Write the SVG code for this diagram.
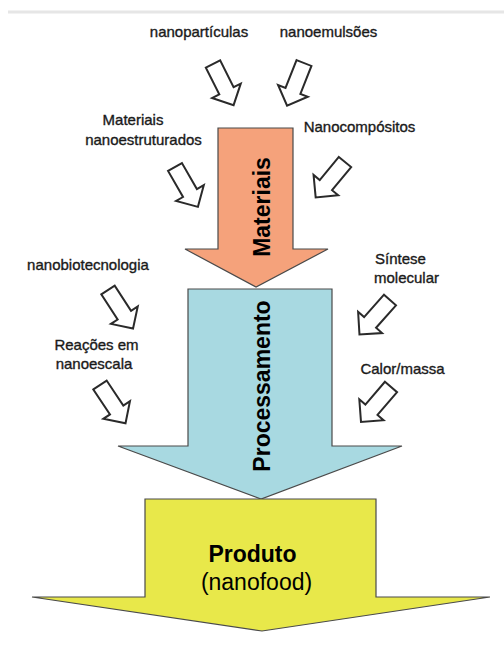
<svg xmlns="http://www.w3.org/2000/svg" xmlns:xlink="http://www.w3.org/1999/xlink" width="504" height="645" viewBox="0 0 504 645">
<style>
.lbl{font-family:"Liberation Sans",Arial,sans-serif;font-size:15px;fill:#1a1a1a;stroke:#1a1a1a;stroke-width:0.35}
.big{font-family:"Liberation Sans",Arial,sans-serif;font-size:23px;font-weight:bold;fill:#000}
.bigr{font-family:"Liberation Sans",Arial,sans-serif;font-size:23px;fill:#000}
.bigarrow{stroke:#4a4a4a;stroke-width:1.2;stroke-linejoin:miter}
.small{fill:#fff;stroke:#2a2a2a;stroke-width:2;stroke-linejoin:miter}
</style>
<defs>
<path id="hollow" d="M-8,0 H8 V30 H16 L0,46 L-16,30 H-8 Z"/>
</defs>
<rect width="504" height="645" fill="#fff"/>
<line x1="8" y1="12" x2="504" y2="12" stroke="#e6e6e6" stroke-width="3"/>

<g id="materiais">
<path class="bigarrow" fill="#F5A27B" d="M218,128 H293 V249 H328 L256,287 L185,249 H218 Z"/>
<text class="big" transform="translate(270,207) rotate(-90)" text-anchor="middle">Materiais</text>
</g>
<g id="processamento">
<path class="bigarrow" fill="#A8D9E1" d="M188,289 H332 V446 H402 L261,499 L118,446 H188 Z"/>
<text class="big" transform="translate(270,386) rotate(-90)" text-anchor="middle">Processamento</text>
</g>
<g id="produto">
<path class="bigarrow" fill="#E8E84A" d="M145,499 H376 V597 H490 L262,631 L32,597 H145 Z"/>
<text class="big" x="252.5" y="562" text-anchor="middle">Produto</text>
<text class="bigr" x="256.5" y="590" text-anchor="middle">(nanofood)</text>
</g>

<g id="labels">
<text class="lbl" x="199" y="37" text-anchor="middle">nanopartículas</text>
<text class="lbl" x="328.5" y="37" text-anchor="middle">nanoemulsões</text>
<text class="lbl" x="133" y="125" text-anchor="middle">Materiais</text>
<text class="lbl" x="143.5" y="145" text-anchor="middle">nanoestruturados</text>
<text class="lbl" x="359.5" y="132" text-anchor="middle">Nanocompósitos</text>
<text class="lbl" x="88" y="270" text-anchor="middle">nanobiotecnologia</text>
<text class="lbl" x="375" y="264">Síntese</text>
<text class="lbl" x="374" y="283">molecular</text>
<text class="lbl" x="96.5" y="350" text-anchor="middle">Reações em</text>
<text class="lbl" x="94" y="369" text-anchor="middle">nanoescala</text>
<text class="lbl" x="402.5" y="374" text-anchor="middle">Calor/massa</text>
</g>

<g id="connectors">
<use xlink:href="#hollow" class="small" transform="translate(213,64) rotate(-26.6)"/>
<use xlink:href="#hollow" class="small" transform="translate(304,63) rotate(21.6)"/>
<use xlink:href="#hollow" class="small" transform="translate(175,167) rotate(-29.9)"/>
<use xlink:href="#hollow" class="small" transform="translate(345,162) rotate(39.6)"/>
<use xlink:href="#hollow" class="small" transform="translate(108,290) rotate(-33)"/>
<use xlink:href="#hollow" class="small" transform="translate(390,300) rotate(41.6)"/>
<use xlink:href="#hollow" class="small" transform="translate(100,385) rotate(-33.7)"/>
<use xlink:href="#hollow" class="small" transform="translate(391,387) rotate(40.7)"/>
</g>
</svg>
